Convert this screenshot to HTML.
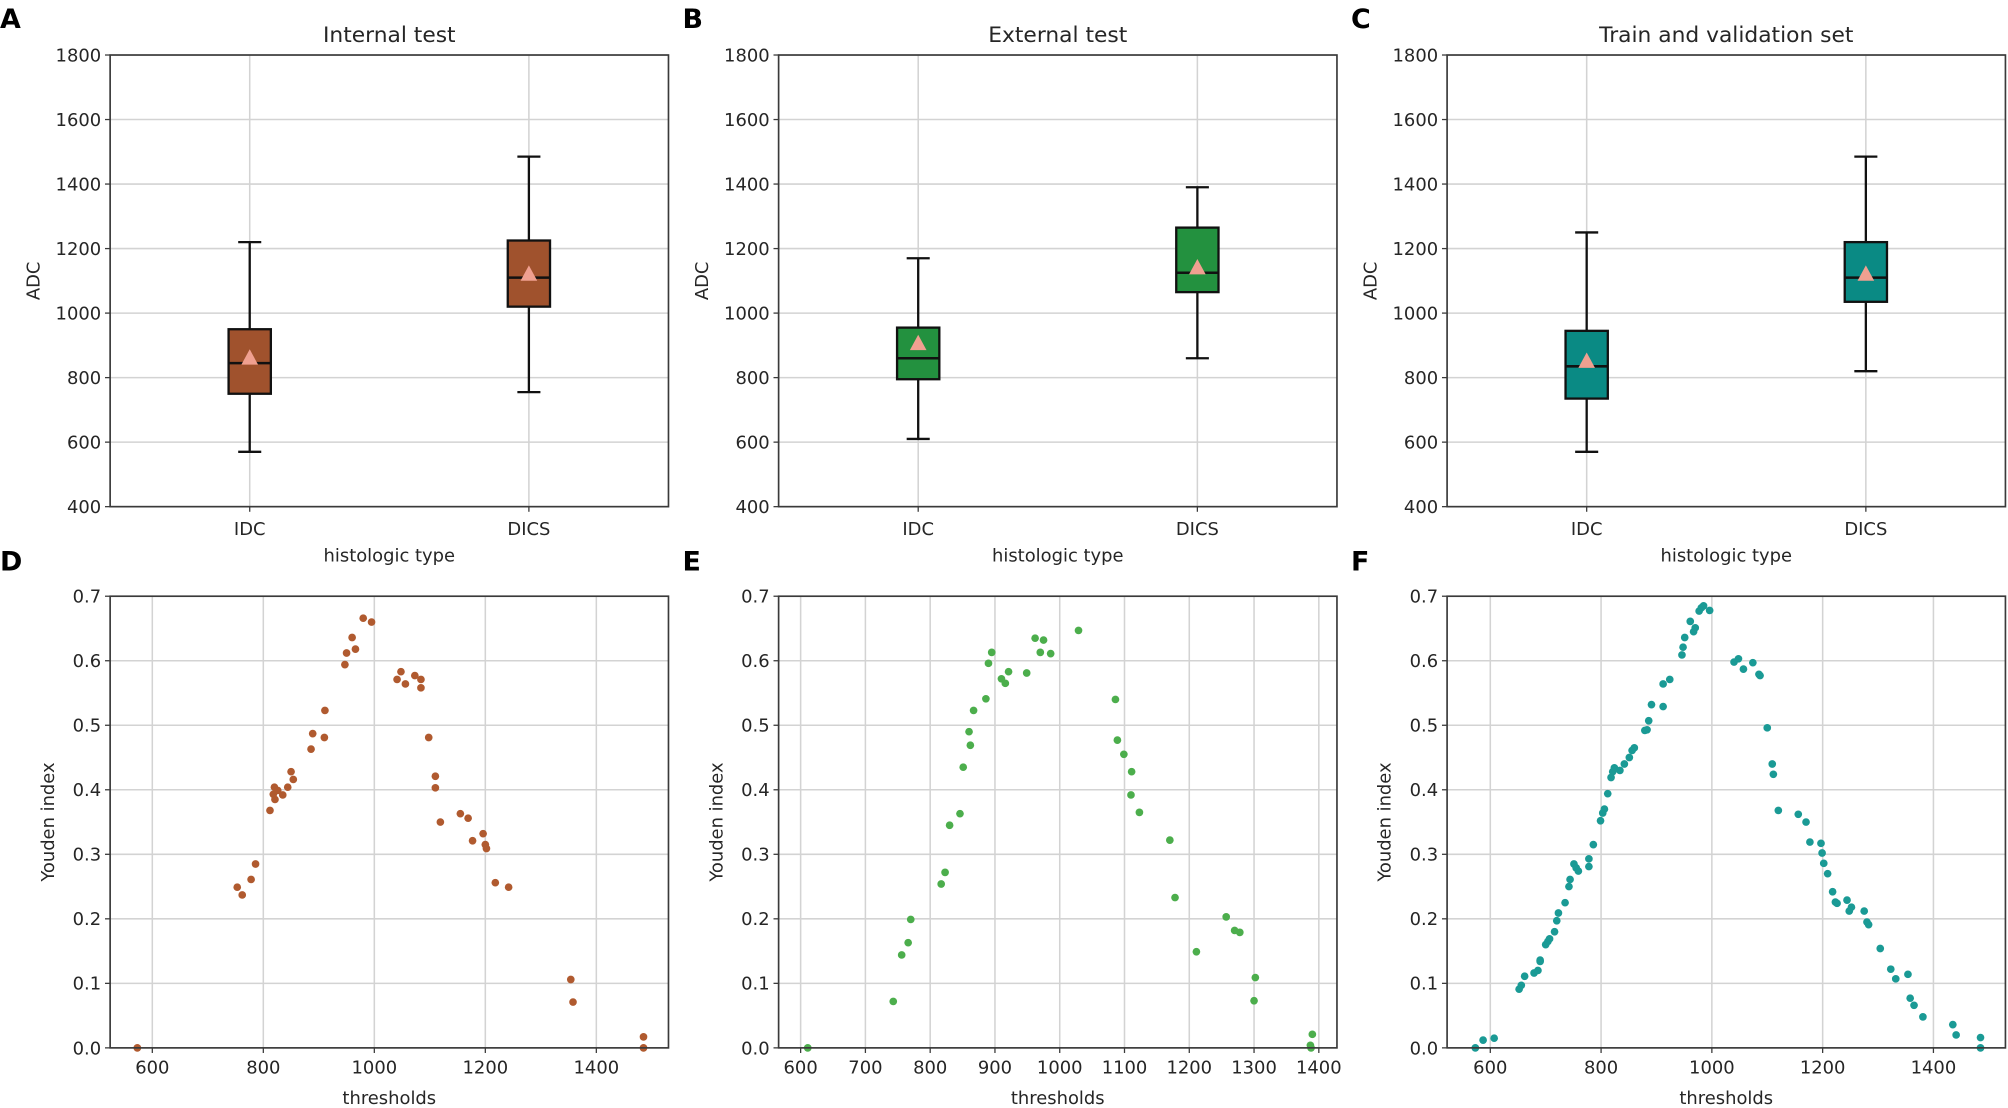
<!DOCTYPE html>
<html><head><meta charset="utf-8"><style>
html,body{margin:0;padding:0;background:#fff;}
svg{display:block;font-family:"DejaVu Sans","Liberation Sans",sans-serif;}
</style></head><body>
<svg id="fig" width="2008" height="1108" viewBox="0 0 1568 866" preserveAspectRatio="none" xmlns="http://www.w3.org/2000/svg"></svg>
<script>
// ---- Box plot data (ADC) ----
const boxCategories = ["IDC", "DICS"];
const boxTitles = ["Internal test", "External test", "Train and validation set"];
const yTicksBox = [400, 600, 800, 1000, 1200, 1400, 1600, 1800];
// [whiskerLow, q1, median, q3, whiskerHigh, mean] per category
const boxA = [[570, 750, 845, 950, 1220, 860], [755, 1020, 1110, 1225, 1485, 1120]];
const boxB = [[610, 795, 860, 955, 1170, 905], [860, 1065, 1125, 1265, 1390, 1140]];
const boxC = [[570, 735, 835, 945, 1250, 850], [820, 1035, 1110, 1220, 1485, 1120]];

// ---- Youden index scatter data ----
const yTicksYouden = [0.0, 0.1, 0.2, 0.3, 0.4, 0.5, 0.6, 0.7];
const xTicksD = [600, 800, 1000, 1200, 1400];
const xTicksE = [600, 700, 800, 900, 1000, 1100, 1200, 1300, 1400];
const xTicksF = [600, 800, 1000, 1200, 1400];
const thrD = [573,753,762,778,786,812,820,818,821,826,835,844,850,854,886,889,911,910,947,950,960,966,980,995,1041,1048,1056,1073,1084,1084,1098,1110,1110,1119,1155,1169,1177,1196,1200,1202,1218,1242,1354,1358,1485,1485];
const youD = [0,0.249,0.237,0.261,0.285,0.368,0.404,0.393,0.385,0.399,0.392,0.404,0.428,0.416,0.463,0.487,0.523,0.481,0.594,0.612,0.636,0.618,0.666,0.660,0.571,0.583,0.564,0.577,0.571,0.558,0.481,0.421,0.403,0.350,0.363,0.356,0.321,0.332,0.315,0.309,0.256,0.249,0.106,0.071,0.017,0];
const thrE = [611,743,756,766,770,817,823,830,846,851,860,862,867,886,890,895,910,916,921,949,962,970,975,986,1029,1086,1089,1099,1111,1110,1123,1170,1178,1211,1257,1270,1278,1302,1300,1390,1387,1388];
const youE = [0,0.072,0.144,0.163,0.199,0.254,0.272,0.345,0.363,0.435,0.490,0.469,0.523,0.541,0.596,0.613,0.572,0.565,0.583,0.581,0.635,0.613,0.632,0.611,0.647,0.540,0.477,0.455,0.428,0.392,0.365,0.322,0.233,0.149,0.203,0.182,0.179,0.109,0.073,0.021,0.004,0];
const thrF = [573,587,607,652,656,662,679,686,690,690,700,704,707,716,720,723,735,742,744,751,755,759,778,778,786,799,803,806,812,818,821,824,834,842,851,856,860,879,883,886,891,912,912,924,946,948,951,961,967,970,977,981,985,996,1040,1048,1057,1074,1085,1087,1100,1109,1111,1120,1156,1170,1177,1197,1199,1202,1209,1218,1223,1226,1244,1248,1252,1275,1280,1283,1304,1323,1332,1354,1358,1365,1381,1435,1441,1485,1485];
const youF = [0,0.012,0.015,0.091,0.097,0.111,0.116,0.120,0.134,0.136,0.160,0.165,0.169,0.180,0.197,0.209,0.225,0.250,0.261,0.285,0.279,0.274,0.293,0.281,0.315,0.352,0.364,0.370,0.394,0.419,0.428,0.434,0.430,0.440,0.450,0.461,0.465,0.492,0.493,0.507,0.532,0.529,0.564,0.571,0.609,0.621,0.636,0.661,0.645,0.651,0.677,0.682,0.685,0.678,0.598,0.603,0.587,0.597,0.579,0.577,0.496,0.440,0.424,0.368,0.362,0.350,0.319,0.317,0.302,0.286,0.270,0.242,0.226,0.224,0.229,0.212,0.218,0.212,0.195,0.191,0.154,0.122,0.107,0.114,0.077,0.066,0.048,0.036,0.020,0.016,0];

const NS = "http://www.w3.org/2000/svg";
const svg = document.getElementById("fig");
function mk(tag, attrs, parent) {
  const e = document.createElementNS(NS, tag);
  for (const k in attrs) e.setAttribute(k, attrs[k]);
  (parent || svg).appendChild(e);
  return e;
}
const GRID = "#d3d3d3", SPINE = "#3a3a3a", TXT = "#262626";
const panelLefts = [86, 608, 1130];
const W = 436;

function panelLetter(ch, x, y) {
  const t = mk("text", {x: x, y: y, "font-size": 21, "font-weight": "bold", fill: "#000"});
  t.textContent = ch;
  
  
}

function boxPanel(idx, data, color, letter) {
  const L = panelLefts[idx], T = 43, B = 396;
  const g = mk("g", {});
  
  
  const yS = v => B - (v - 400) / 1400 * (B - T);
  const xS = c => L + (c + 0.5) * (W / 2);
  yTicksBox.forEach(v => {
    const ln = mk("line", {x1: L, x2: L + W, y1: yS(v), y2: yS(v), stroke: GRID, "stroke-width": 1.2}, g);
    
    
    mk("line", {x1: L - 4, x2: L, y1: yS(v), y2: yS(v), stroke: SPINE, "stroke-width": 1}, g);
    const t = mk("text", {x: L - 7, y: yS(v) + 5, "text-anchor": "end", "font-size": 14, fill: TXT}, g);
    t.textContent = v;
    
    
  });
  boxCategories.forEach((c, i) => {
    const cx = xS(i);
    const ln = mk("line", {x1: cx, x2: cx, y1: T, y2: B, stroke: GRID, "stroke-width": 1.2}, g);
    
    
    mk("line", {x1: cx, x2: cx, y1: B, y2: B + 4, stroke: SPINE, "stroke-width": 1}, g);
    const t = mk("text", {x: cx, y: B + 22, "text-anchor": "middle", "font-size": 14, fill: TXT}, g);
    t.textContent = c;
    
    
  });
  data.forEach((d, i) => {
    const cx = xS(i), hw = 16.5, cap = 9;
    const [lo, q1, med, q3, hi, mean] = d;
    const bg = mk("g", {}, g);
    
    
    mk("line", {x1: cx, x2: cx, y1: yS(hi), y2: yS(q3), stroke: "#111", "stroke-width": 1.8}, bg);
    mk("line", {x1: cx, x2: cx, y1: yS(q1), y2: yS(lo), stroke: "#111", "stroke-width": 1.8}, bg);
    mk("line", {x1: cx - cap, x2: cx + cap, y1: yS(hi), y2: yS(hi), stroke: "#111", "stroke-width": 1.8}, bg);
    mk("line", {x1: cx - cap, x2: cx + cap, y1: yS(lo), y2: yS(lo), stroke: "#111", "stroke-width": 1.8}, bg);
    mk("rect", {x: cx - hw, y: yS(q3), width: 2 * hw, height: yS(q1) - yS(q3), fill: color, stroke: "#111", "stroke-width": 1.8}, bg);
    mk("line", {x1: cx - hw, x2: cx + hw, y1: yS(med), y2: yS(med), stroke: "#111", "stroke-width": 2}, bg);
    const my = yS(mean);
    const tri = mk("polygon", {points: `${cx},${my - 7} ${cx - 6.5},${my + 5} ${cx + 6.5},${my + 5}`, fill: "#f0a090"}, bg);
    
    
  });
  const fr = mk("rect", {x: L, y: T, width: W, height: B - T, fill: "none", stroke: SPINE, "stroke-width": 1.3}, g);
  
  
  const tt = mk("text", {x: L + W / 2, y: 33, "text-anchor": "middle", "font-size": 17, fill: TXT}, g);
  tt.textContent = boxTitles[idx];
  
  
  const xl = mk("text", {x: L + W / 2, y: 439, "text-anchor": "middle", "font-size": 14, fill: TXT}, g);
  xl.textContent = "histologic type";
  
  
  const yl = mk("text", {x: 0, y: 0, "text-anchor": "middle", "font-size": 14, fill: TXT, transform: `translate(${L - 55},${(T + B) / 2}) rotate(-90)`}, g);
  yl.textContent = "ADC";
  
  
}

function scatterPanel(idx, xs, ys, xTicks, xmin, xmax, color, letter) {
  const L = panelLefts[idx], T = 466, B = 819;
  const g = mk("g", {});
  
  
  const yS = v => B - v / 0.7 * (B - T);
  const xS = v => L + (v - xmin) / (xmax - xmin) * W;
  yTicksYouden.forEach(v => {
    const ln = mk("line", {x1: L, x2: L + W, y1: yS(v), y2: yS(v), stroke: GRID, "stroke-width": 1.2}, g);
    
    
    mk("line", {x1: L - 4, x2: L, y1: yS(v), y2: yS(v), stroke: SPINE, "stroke-width": 1}, g);
    const t = mk("text", {x: L - 7, y: yS(v) + 5, "text-anchor": "end", "font-size": 14, fill: TXT}, g);
    t.textContent = v.toFixed(1);
    
    
  });
  xTicks.forEach(v => {
    const x = xS(v);
    const ln = mk("line", {x1: x, x2: x, y1: T, y2: B, stroke: GRID, "stroke-width": 1.2}, g);
    
    
    mk("line", {x1: x, x2: x, y1: B, y2: B + 4, stroke: SPINE, "stroke-width": 1}, g);
    const t = mk("text", {x: x, y: B + 20, "text-anchor": "middle", "font-size": 14, fill: TXT}, g);
    t.textContent = v;
    
    
  });
  xs.forEach((xv, i) => {
    const c = mk("circle", {cx: xS(xv), cy: yS(ys[i]), r: 3, fill: color}, g);
    
    
  });
  const fr = mk("rect", {x: L, y: T, width: W, height: B - T, fill: "none", stroke: SPINE, "stroke-width": 1.3}, g);
  
  
  const xl = mk("text", {x: L + W / 2, y: 863, "text-anchor": "middle", "font-size": 14, fill: TXT}, g);
  xl.textContent = "thresholds";
  
  
  const yl = mk("text", {x: 0, y: 0, "text-anchor": "middle", "font-size": 14, fill: TXT, transform: `translate(${L - 44},${(T + B) / 2}) rotate(-90)`}, g);
  yl.textContent = "Youden index";
  
  
}

boxPanel(0, boxA, "#a0522d", "A");
boxPanel(1, boxB, "#23913f", "B");
boxPanel(2, boxC, "#0a8a84", "C");
scatterPanel(0, thrD, youD, xTicksD, 524, 1530, "#b05a2f", "D");
scatterPanel(1, thrE, youE, xTicksE, 566, 1428, "#4cae4c", "E");
scatterPanel(2, thrF, youF, xTicksF, 522, 1530, "#1a9a95", "F");
panelLetter("A", 0, 22); panelLetter("B", 533, 22); panelLetter("C", 1055, 22);
panelLetter("D", 0, 446); panelLetter("E", 533, 446); panelLetter("F", 1055, 446);
</script>
</body></html>
